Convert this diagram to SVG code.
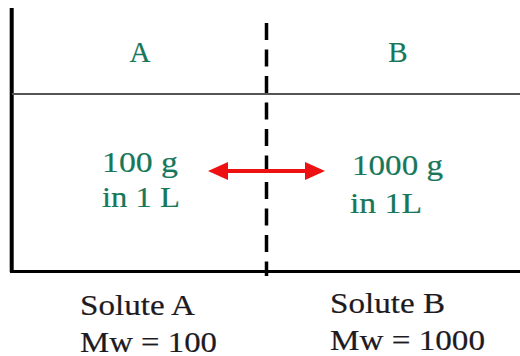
<svg xmlns="http://www.w3.org/2000/svg" width="520" height="356" viewBox="0 0 520 356">
<style>
text{font-family:'Liberation Serif',serif;stroke-width:0.2}
.g{font-size:29px;fill:#16775a;stroke:#16775a}
.k{font-size:30px;fill:#1e1a22;stroke:#1e1a22}
</style>
<rect width="520" height="356" fill="#fff"/>
<g id="container">
<line x1="11.7" y1="8" x2="11.7" y2="272" stroke="#000" stroke-width="4"/>
<line x1="10" y1="271.5" x2="520" y2="271.5" stroke="#000" stroke-width="3"/>
<line x1="12" y1="94" x2="520" y2="94" stroke="#555" stroke-width="2"/>
</g>
<g id="membrane">
<line x1="266.5" y1="23" x2="266.5" y2="276" stroke="#000" stroke-width="3.5" stroke-dasharray="17 9.5"/>
</g>
<g id="labelA"><text class="g" x="140" y="61.5" text-anchor="middle" font-size="30">A</text></g>
<g id="labelB"><text class="g" x="398" y="61.5" text-anchor="middle" font-size="30">B</text></g>
<g id="solA">
<text class="g" x="102" y="171.5" textLength="76" lengthAdjust="spacingAndGlyphs">100 g</text>
<text class="g" x="102" y="206.5" textLength="78" lengthAdjust="spacingAndGlyphs">in 1 L</text>
</g>
<g id="solB">
<text class="g" x="352" y="175" textLength="91" lengthAdjust="spacingAndGlyphs">1000 g</text>
<text class="g" x="350" y="213" textLength="72" lengthAdjust="spacingAndGlyphs">in 1L</text>
</g>
<g id="connectors">
<line x1="226" y1="171" x2="307" y2="171" stroke="#ee1111" stroke-width="4"/>
<polygon points="208,171 228,162 228,180" fill="#ee1111"/>
<polygon points="325,171 305,162 305,180" fill="#ee1111"/>
</g>
<g id="captionA">
<text class="k" x="80" y="315" textLength="115" lengthAdjust="spacingAndGlyphs">Solute A</text>
<text class="k" x="80" y="351.5" textLength="137" lengthAdjust="spacingAndGlyphs">Mw = 100</text>
</g>
<g id="captionB">
<text class="k" x="330" y="313" textLength="115" lengthAdjust="spacingAndGlyphs">Solute B</text>
<text class="k" x="330" y="350" textLength="155" lengthAdjust="spacingAndGlyphs">Mw = 1000</text>
</g>
</svg>
